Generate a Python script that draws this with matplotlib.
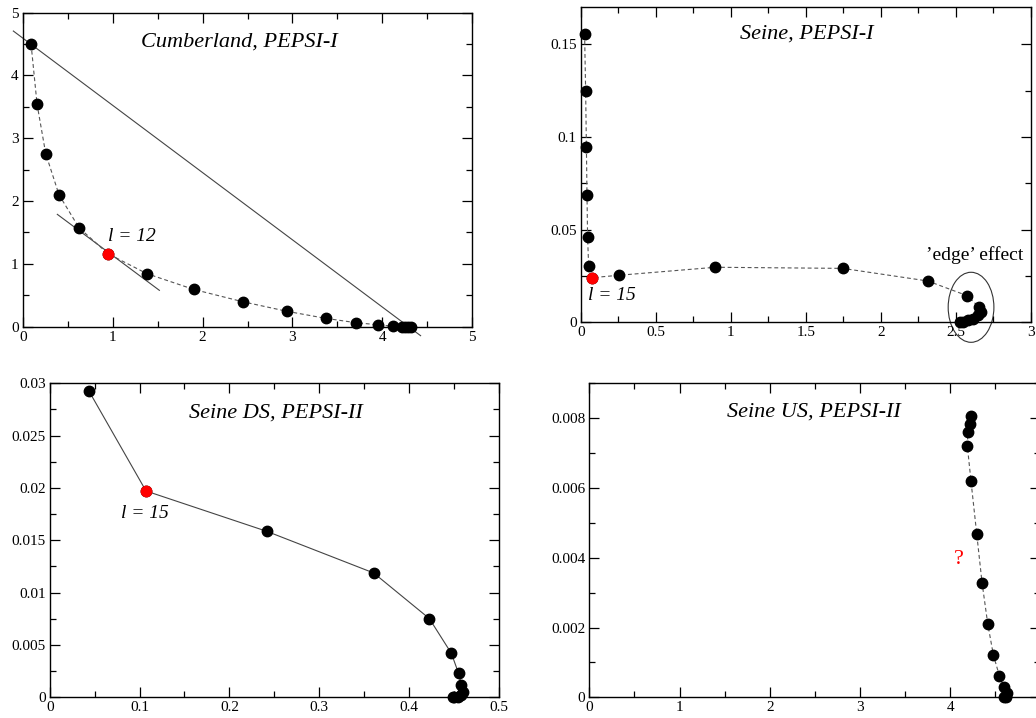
import matplotlib
matplotlib.use("Agg")
import matplotlib.pyplot as plt
from matplotlib.ticker import MultipleLocator, FuncFormatter
from matplotlib.patches import Ellipse

plt.rcParams['font.family'] = ['Liberation Serif', 'DejaVu Serif']

# ---- data ----
cumb_x = [0.093, 0.16, 0.256, 0.404, 0.626, 0.949, 1.382, 1.901, 2.446, 2.943,
          3.369, 3.706, 3.956, 4.122, 4.216, 4.25, 4.29, 4.316]
cumb_y = [4.50, 3.54, 2.755, 2.10, 1.576, 1.162, 0.844, 0.594, 0.398, 0.244,
          0.133, 0.064, 0.03, 0.005, 0.0, 0.0, 0.0, 0.0]
cumb_sel = 5
cumb_chord_x = [-0.104, 4.425]
cumb_chord_y = [4.708, -0.143]
cumb_tan_x = [0.385, 1.520]
cumb_tan_y = [1.789, 0.579]

seine1_x = [0.024, 0.031, 0.036, 0.040, 0.044, 0.051, 0.076, 0.256, 0.896, 1.746,
            2.313, 2.575, 2.657, 2.667, 2.650, 2.617, 2.584, 2.550, 2.528]
seine1_y = [0.1556, 0.1246, 0.0948, 0.0687, 0.0459, 0.0304, 0.0241, 0.0254, 0.0297, 0.0291,
            0.0223, 0.0144, 0.0081, 0.0056, 0.0038, 0.0020, 0.0011, 0.0002, 0.0]
seine1_sel = 6

seineds_x = [0.0434, 0.1072, 0.2415, 0.3605, 0.4225, 0.447, 0.455, 0.458, 0.460,
             0.458, 0.4545, 0.450, 0.4485]
seineds_y = [0.0293, 0.01971, 0.01586, 0.01188, 0.00752, 0.00420, 0.00229, 0.00118,
             0.00054, 0.00022, 0.00006, 0.0, 0.0]
seineds_sel = 1

seineus_x = [4.230, 4.215, 4.196, 4.189, 4.230, 4.293, 4.352, 4.415, 4.478, 4.544,
             4.593, 4.63, 4.62, 4.593]
seineus_y = [0.008067, 0.00784, 0.0076, 0.00721, 0.00619, 0.00469, 0.00329, 0.00211,
             0.00121, 0.00062, 0.00030, 0.00013, 0.00002, 0.0]
seineus_xticks = [0, 1, 2, 3, 4]

W, H = 1036, 718
fig = plt.figure(figsize=(W / 100, H / 100), dpi=100)

def px_axes(left, top, right, bottom):
    return fig.add_axes([left / W, (H - bottom) / H, (right - left) / W, (bottom - top) / H])

def fmt(v, pos):
    return f"{round(v, 6):g}"

def style(ax, xmaj, xmin, ymaj, ymin):
    ax.xaxis.set_major_locator(MultipleLocator(xmaj))
    ax.xaxis.set_minor_locator(MultipleLocator(xmin))
    ax.yaxis.set_major_locator(MultipleLocator(ymaj))
    ax.yaxis.set_minor_locator(MultipleLocator(ymin))
    ax.xaxis.set_major_formatter(FuncFormatter(fmt))
    ax.yaxis.set_major_formatter(FuncFormatter(fmt))
    ax.tick_params(which='both', direction='in', top=True, right=True, labelsize=11, pad=3, width=0.9)
    ax.tick_params(which='major', length=7)
    ax.tick_params(which='minor', length=4)
    for s in ax.spines.values():
        s.set_linewidth(1.0)

DASH = (0, (3.5, 2.5))
MS = 7.5
TITLE_FS = 16

# ---- Cumberland ----
ax1 = px_axes(22.7, 12.7, 472.3, 326.7)
ax1.set_xlim(0, 5); ax1.set_ylim(0, 5)
style(ax1, 1, 0.5, 1, 0.5)
ax1.plot(cumb_chord_x, cumb_chord_y, color='#444444', lw=0.8, clip_on=False)
ax1.plot(cumb_tan_x, cumb_tan_y, color='#444444', lw=0.8)
ax1.plot(cumb_x, cumb_y, color='#555555', lw=0.8, ls=DASH, marker='o', ms=MS,
         mfc='black', mec='black', clip_on=False, zorder=3)
ax1.plot([cumb_x[cumb_sel]], [cumb_y[cumb_sel]], 'o', color='red', ms=MS, zorder=4)
ax1.text(0.945, 1.43, "l = 12", style='italic', fontsize=14, ha='left', va='center')
ax1.text(0.482, 0.908, "Cumberland, PEPSI-I", style='italic', fontsize=TITLE_FS,
         ha='center', va='center', transform=ax1.transAxes)

# ---- Seine PEPSI-I ----
ax2 = px_axes(581, 7.3, 1030.7, 322.3)
ax2.set_xlim(0, 3); ax2.set_ylim(0, 0.17)
style(ax2, 0.5, 0.25, 0.05, 0.025)
ax2.plot(seine1_x, seine1_y, color='#555555', lw=0.8, ls=DASH, marker='o', ms=MS,
         mfc='black', mec='black', clip_on=False, zorder=3)
ax2.plot([seine1_x[seine1_sel]], [seine1_y[seine1_sel]], 'o', color='red', ms=MS, zorder=4)
ax2.add_patch(Ellipse((2.602, 0.0081), 0.305, 0.0378, fill=False, ec='#333333', lw=0.8,
                      clip_on=False))
ax2.text(0.049, 0.0144, "l = 15", style='italic', fontsize=14, ha='left', va='center')
ax2.text(2.30, 0.0363, "\u2019edge\u2019 effect", fontsize=14, ha='left', va='center')
ax2.text(0.502, 0.914, "Seine, PEPSI-I", style='italic', fontsize=TITLE_FS,
         ha='center', va='center', transform=ax2.transAxes)

# ---- Seine DS PEPSI-II ----
ax3 = px_axes(49.7, 383.3, 499, 697.3)
ax3.set_xlim(0, 0.5); ax3.set_ylim(0, 0.03)
style(ax3, 0.1, 0.05, 0.005, 0.0025)
ax3.plot(seineds_x, seineds_y, color='#444444', lw=0.8, marker='o', ms=MS,
         mfc='black', mec='black', clip_on=False, zorder=3)
ax3.plot([seineds_x[seineds_sel]], [seineds_y[seineds_sel]], 'o', color='red', ms=MS, zorder=4)
ax3.text(0.079, 0.01758, "l = 15", style='italic', fontsize=14, ha='left', va='center')
ax3.text(0.504, 0.904, "Seine DS, PEPSI-II", style='italic', fontsize=TITLE_FS,
         ha='center', va='center', transform=ax3.transAxes)

# ---- Seine US PEPSI-II ----
ax4 = px_axes(589.3, 383.3, 1040.5, 697.3)
ax4.set_xlim(0, 5); ax4.set_ylim(0, 0.009)
style(ax4, 1, 0.5, 0.002, 0.001)
ax4.set_xticks(seineus_xticks)
ax4.plot(seineus_x, seineus_y, color='#555555', lw=0.8, ls=DASH, marker='o', ms=MS,
         mfc='black', mec='black', clip_on=False, zorder=3)
ax4.text(4.093, 0.00394, "?", color='red', fontsize=16, ha='center', va='center')
ax4.text(0.497, 0.909, "Seine US, PEPSI-II", style='italic', fontsize=TITLE_FS,
         ha='center', va='center', transform=ax4.transAxes)

fig.savefig("out.png", dpi=100)
